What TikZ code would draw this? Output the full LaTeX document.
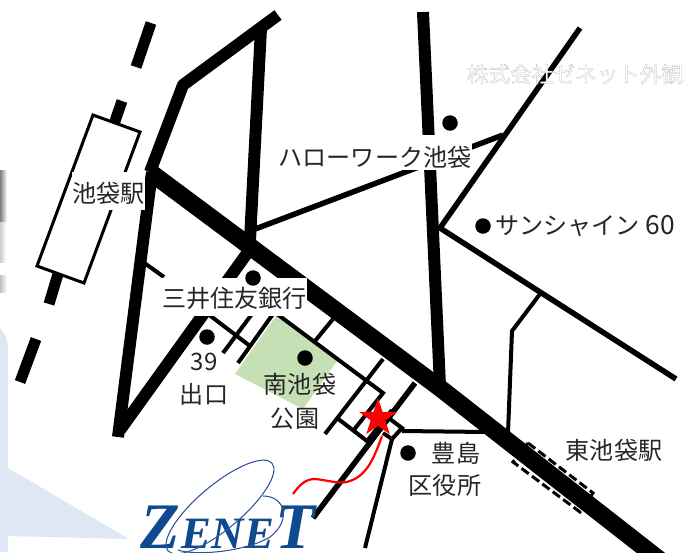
\documentclass[tikz,border=0pt]{standalone}
\usepackage{fontspec}
\setmainfont{Noto Sans CJK JP}
\newfontfamily\logofont{Liberation Serif}
\newfontfamily\halofont[FakeBold=1.5]{Noto Sans CJK JP}
\usetikzlibrary{shapes.geometric}
\definecolor{parkcolor}{HTML}{C5E0B4}
\definecolor{paleblue}{HTML}{DEE8F4}
\definecolor{logoblue}{HTML}{0F4A8F}
\definecolor{ringblue}{HTML}{2F52A0}
\begin{document}
\begin{tikzpicture}[
    x=0.02cm, y=-0.02cm,
    % Road styles
    mainroad/.style={line width=17.5*0.02cm},
    bigroad/.style={line width=12*0.02cm},
    midroad/.style={line width=5.5*0.02cm},
    smallroad/.style={line width=4*0.02cm},
    rail/.style={line width=11*0.02cm},
    % Label styles
    maplabel/.style={font=\fontsize{13.7}{15}\selectfont, text=black!85, inner sep=0pt},
    whitelabel/.style={maplabel, fill=white},
    spot/.style={circle, fill=black, minimum size=15.5*0.02cm, inner sep=0pt},
    ring/.style={ringblue, line width=0.6pt}
]
\useasboundingbox (0,0) rectangle (700,552);
\clip (0,0) rectangle (700,552);

% ============ BACKGROUND ============
\fill[paleblue] (0,328) .. controls (5,333) and (8,340) .. (8,350) -- (8,468) -- (129,539) -- (8,536) -- (8,552) -- (0,552) -- cycle;
\shade[left color=black!50, right color=white] (0,170) rectangle (7,222);
\shade[left color=black!20, right color=white] (0,222) rectangle (6,262);
\shade[left color=black!25, right color=white] (0,275) rectangle (7,292);

% ============ RAILWAY ============
\draw[rail] (151,23) -- (136,67);
\draw[rail] (122,101) -- (114,124);
\draw[rail] (58,274) -- (49,304);
\draw[rail] (36,339) -- (20,382);
\draw[line width=3*0.02cm, fill=white] (93,115) -- (140,132) -- (84,283) -- (37,266) -- cycle;
\draw[line width=3*0.02cm, dash pattern=on 9*0.02cm off 4*0.02cm] (528,443) -- (593,493) -- (580,512) -- (513,462) -- cycle;

% ============ PARK ============
\fill[parkcolor] (276,316) -- (337,361) -- (303,409) -- (235,374) -- cycle;

% ============ SMALL ROADS ============
\draw[smallroad] (208,314) -- (250,346);
\draw[smallroad] (252,314) -- (223,353);
\draw[smallroad] (273,314) -- (238,363);
\draw[smallroad] (277,314) -- (383,393) -- (353,431);
\draw[smallroad] (333,319) -- (315,341);
\draw[smallroad] (383,359) -- (325,434);
\draw[smallroad] (337,418) -- (367,441) -- (392,410);
\draw[smallroad] (390,419) -- (402,428) -- (392,439) -- (383,433);
\draw[smallroad] (402,431) -- (487,432);
\draw[smallroad] (392,439) -- (365,548);
\draw[smallroad] (143,262) -- (164,277);
\draw[smallroad] (540,294) -- (512,331) -- (508,433);
\draw[midroad] (415,383) -- (313,518);
\draw[midroad] (250,231) -- (503,135);
\draw[midroad] (580,28) -- (440,228) -- (676,379);

% ============ BIG ROADS ============
\draw[bigroad, line join=bevel] (278,15) -- (183,85) -- (150,172);
\draw[bigroad] (261,28) -- (250,240);
\draw[bigroad] (423,12) -- (440,386);
\draw[bigroad] (152,172) -- (118,437);
\draw[bigroad] (120,430) -- (248,252);
\draw[mainroad] (150,172) -- (440,388) -- (555,478) -- (665,564);

% ============ LABELS ============
\node[whitelabel, minimum width=73*0.02cm, text height=30*0.02cm, text depth=8*0.02cm] (ikebukuro) at (108.5,191) {池袋駅};
\node[whitelabel, minimum width=194*0.02cm, text height=31*0.02cm, text depth=4*0.02cm] (hellowork) at (375,152.5) {ハローワーク池袋};
\node[whitelabel, minimum width=145*0.02cm, text height=29*0.02cm, text depth=9*0.02cm] (mitsui) at (234.5,297) {三井住友銀行};
\node[maplabel, anchor=west] (sunshine) at (495,226) {サンシャイン\kern 0.25em{\fontsize{15}{15}\selectfont 60}};
\node[maplabel] (exit39) at (204,362) {39};
\node[maplabel] (exitlabel) at (204,394) {出口};
\node[maplabel] (parkname) at (300,384) {南池袋};
\node[maplabel] (parklabel) at (295,419) {公園};
\node[maplabel] (toshima) at (456,453) {豊島};
\node[maplabel] (wardoffice) at (445,485) {区役所};
\node[maplabel] (eaststation) at (614,450) {東池袋駅};
\node[inner sep=0pt] (caption) at (575,74) {\fontsize{12.3}{14}\halofont\color{white}\special{pdf:code 0.75 G}株式会社ゼネット外観};

% ============ SPOTS ============
\node[spot] (spota) at (450,123) {};
\node[spot] (spotb) at (483,226) {};
\node[spot] (spotc) at (253,278) {};
\node[spot] (spotd) at (207,337) {};
\node[spot] (spote) at (305,358) {};
\node[spot] (spotf) at (408,453) {};

% ============ LOGO ============
\node[inner sep=0pt, anchor=base west, text=logoblue] (zenet) at (140,548) {\logofont\bfseries\itshape\fontsize{37}{38}\selectfont Z\kern 1pt\fontsize{25.5}{27}\selectfont ENE\kern 1pt\fontsize{37}{38}\selectfont T};
\draw[ring, rotate around={40:(220,507)}] (220,507) ellipse (68 and 22);
\draw[ring] (263,496) .. controls (285,496) and (292,520) .. (270,537) .. controls (245,552) and (195,556) .. (178,550);

% ============ DESTINATION ============
\draw[red, line width=2.2*0.02cm] (293,494) .. controls (300,484) and (306,479) .. (315,479) .. controls (328,480) and (340,485) .. (350,481) .. controls (368,475) and (375,455) .. (382,436);
\node[star, star points=5, star point ratio=2.6, fill=red, minimum size=40*0.02cm, inner sep=0pt] (marker) at (378,418) {};

\end{tikzpicture}
\end{document}
